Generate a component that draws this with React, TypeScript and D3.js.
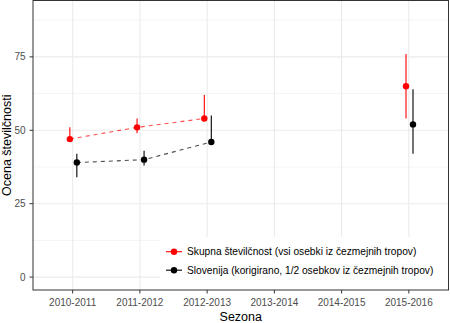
import React from "react";
import * as d3 from "d3";

const categories = ["2010-2011", "2011-2012", "2012-2013", "2013-2014", "2014-2015", "2015-2016"];
const skupnaVals: (number | null)[] = [47, 51, 54, null, null, 65];
const skupnaLow: (number | null)[] = [46.5, 49, 53.5, null, null, 54];
const skupnaHigh: (number | null)[] = [51, 54, 62, null, null, 76];
const slovVals: (number | null)[] = [39, 40, 46, null, null, 52];
const slovLow: (number | null)[] = [34, 38, 45.5, null, null, 42];
const slovHigh: (number | null)[] = [42, 43, 55, null, null, 64];
const yTicks = [0, 25, 50, 75];
const yMinor = [12.5, 37.5, 62.5, 87.5];
const seriesNames = [
  "Skupna številčnost (vsi osebki iz čezmejnih tropov)",
  "Slovenija (korigirano, 1/2 osebkov iz čezmejnih tropov)",
];

const W = 450;
const H = 323;
const panel = { left: 33, right: 448.5, top: 0.5, bottom: 290 };
const font = "'Liberation Sans', Arial, Helvetica, sans-serif";

export default function App() {
  const x = d3.scalePoint<string>().domain(categories).range([panel.left, panel.right]).padding(0.59);
  const y = d3.scaleLinear().domain([-4.4, 94.2]).range([panel.bottom, panel.top]);
  const step = x.step();

  const series = [
    { name: seriesNames[0], vals: skupnaVals, low: skupnaLow, high: skupnaHigh, color: "#ff0000", dodge: -0.042 },
    { name: seriesNames[1], vals: slovVals, low: slovLow, high: slovHigh, color: "#000000", dodge: 0.062 },
  ];

  const line = d3
    .line<[number, number | null]>()
    .defined((d) => d[1] !== null)
    .x((d) => d[0])
    .y((d) => y(d[1] as number));

  const legend = { x: 160, y: 237, w: 288.5, h: 52.5 };

  return (
    <svg width={W} height={H} style={{ position: "absolute", left: 0, top: 0, background: "#fff" }} fontFamily={font}>
      <rect x={0} y={0} width={W} height={H} fill="#fff" />
      {yMinor.map((t) => (
        <line key={"mn" + t} x1={panel.left} x2={panel.right} y1={y(t)} y2={y(t)} stroke="#ebebeb" strokeWidth={0.6} />
      ))}
      {yTicks.map((t) => (
        <line key={"mj" + t} x1={panel.left} x2={panel.right} y1={y(t)} y2={y(t)} stroke="#ebebeb" strokeWidth={1.1} />
      ))}
      {categories.map((c) => (
        <line key={"vg" + c} x1={x(c)} x2={x(c)} y1={panel.top} y2={panel.bottom} stroke="#ebebeb" strokeWidth={1.1} />
      ))}
      {series.map((s) => {
        const pts: [number, number | null][] = categories.map((c, i) => [(x(c) as number) + s.dodge * step, s.vals[i]]);
        return (
          <g key={s.name}>
            <path d={line(pts) || ""} fill="none" stroke={s.color} strokeOpacity={0.7} strokeWidth={1.1} strokeDasharray="4,4" />
            {categories.map((c, i) =>
              s.vals[i] === null ? null : (
                <g key={c}>
                  <line
                    x1={(x(c) as number) + s.dodge * step}
                    x2={(x(c) as number) + s.dodge * step}
                    y1={y(s.low[i] as number)}
                    y2={y(s.high[i] as number)}
                    stroke={s.color}
                    strokeWidth={1.1}
                  />
                  <circle cx={(x(c) as number) + s.dodge * step} cy={y(s.vals[i] as number)} r={3.2} fill={s.color} />
                </g>
              )
            )}
          </g>
        );
      })}
      <rect x={legend.x} y={legend.y} width={legend.w} height={legend.h} fill="#fff" />
      {series.map((s, i) => {
        const ly = 251.7 + i * 18.5;
        return (
          <g key={"lg" + i}>
            <line x1={166} x2={182} y1={ly} y2={ly} stroke={s.color} strokeWidth={1.1} />
            <circle cx={174} cy={ly} r={3.2} fill={s.color} />
            <text x={187} y={ly} dy="0.35em" fontSize={10.2} fill="#000">
              {s.name}
            </text>
          </g>
        );
      })}
      <rect
        x={panel.left}
        y={panel.top}
        width={panel.right - panel.left}
        height={panel.bottom - panel.top}
        fill="none"
        stroke="#333"
        strokeWidth={1}
      />
      {yTicks.map((t) => (
        <g key={"yt" + t}>
          <line x1={panel.left - 3.5} x2={panel.left} y1={y(t)} y2={y(t)} stroke="#333" strokeWidth={1} />
          <text x={25.5} y={y(t)} dy="0.35em" textAnchor="end" fontSize={10} fill="#4d4d4d">
            {t}
          </text>
        </g>
      ))}
      {categories.map((c) => (
        <g key={"xt" + c}>
          <line x1={x(c)} x2={x(c)} y1={panel.bottom} y2={panel.bottom + 3.5} stroke="#333" strokeWidth={1} />
          <text x={x(c)} y={306.2} textAnchor="middle" fontSize={10} fill="#4d4d4d">
            {c}
          </text>
        </g>
      ))}
      <text x={(panel.left + panel.right) / 2} y={320.5} textAnchor="middle" fontSize={12.5} fill="#000">
        Sezona
      </text>
      <text
        transform={`translate(11.2, ${(panel.top + panel.bottom) / 2}) rotate(-90)`}
        textAnchor="middle"
        fontSize={12.5}
        fill="#000"
      >
        Ocena številčnosti
      </text>
    </svg>
  );
}
